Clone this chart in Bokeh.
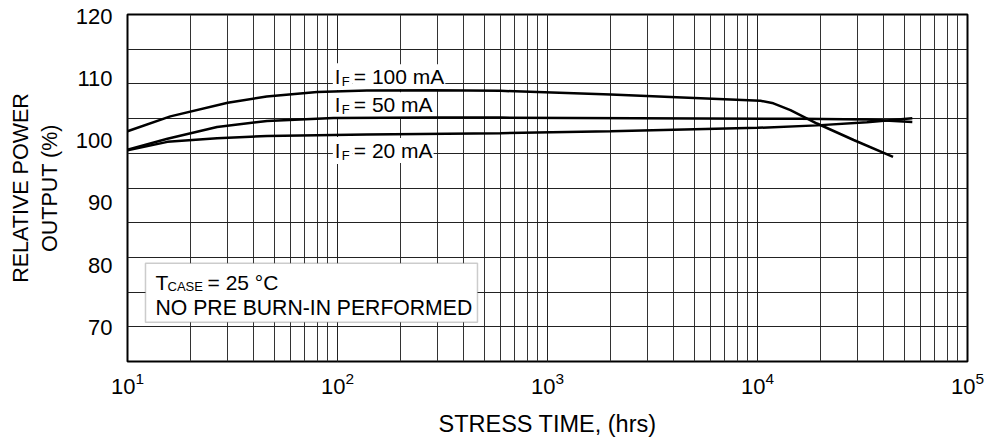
import numpy as np
from bokeh.plotting import figure
from bokeh.models import Range1d, FixedTicker, Label, BoxAnnotation, LogTicker
from bokeh.embed import file_html
from bokeh.resources import INLINE

# ---- data ----
hours_100 = [10, 16, 30, 46, 80, 138, 286, 597, 2000, 5350, 10330, 11900, 14350, 19200, 28700, 44200]
power_100 = [101.5, 103.9, 106.1, 107.1, 107.8, 108.05, 108.1, 108.0, 107.4, 106.8, 106.4, 106.0, 104.9, 102.75, 100.1, 97.4]

hours_50 = [10, 15.5, 26.7, 46.2, 95.7, 286, 600, 16000, 33200, 54600]
power_50 = [98.55, 100.3, 102.2, 103.15, 103.65, 103.7, 103.7, 103.5, 103.4, 103.0]

hours_20 = [10, 15.5, 26.7, 46.2, 138, 597, 2000, 10000, 19200, 33200, 54600]
power_20 = [98.45, 99.8, 100.4, 100.75, 101.0, 101.2, 101.5, 102.05, 102.45, 102.95, 103.6]

y_tick_values = [70, 80, 90, 100, 110, 120]
x_start, x_end = 10, 100000
y_start, y_end = 64.5, 120.27

FONT = "Liberation Sans"

p = figure(width=988, height=443, x_axis_type="log",
           x_range=Range1d(x_start, x_end), y_range=Range1d(y_start, y_end),
           output_backend="svg", toolbar_location=None,
           min_border_left=127, min_border_right=21, min_border_top=14, min_border_bottom=82)
p.background_fill_color = "white"
p.border_fill_color = "white"
p.outline_line_color = "black"
p.outline_line_width = 2

# x axis
p.xaxis.ticker = LogTicker(num_minor_ticks=10)
p.xaxis.axis_label = "STRESS TIME, (hrs)"
p.xaxis.axis_label_text_font = FONT
p.xaxis.axis_label_text_font_size = "23.5px"
p.xaxis.axis_label_text_font_style = "normal"
p.xaxis.axis_label_text_color = "black"
p.xaxis.axis_label_standoff = 14
p.xaxis.major_label_text_font = FONT
p.xaxis.major_label_text_font_size = "22px"
p.xaxis.major_label_text_color = "black"
p.xaxis.major_label_standoff = 4
p.xaxis.axis_line_color = None
p.xaxis.major_tick_line_color = None
p.xaxis.minor_tick_line_color = None

# y axis
p.yaxis.ticker = FixedTicker(ticks=y_tick_values)
p.yaxis.axis_label = "RELATIVE POWER\nOUTPUT (%)"
p.yaxis.axis_label_text_font = FONT
p.yaxis.axis_label_text_font_size = "21.5px"
p.yaxis.axis_label_text_font_style = "normal"
p.yaxis.axis_label_text_color = "black"
p.yaxis.axis_label_standoff = 11
p.yaxis.major_label_text_font = FONT
p.yaxis.major_label_text_font_size = "22px"
p.yaxis.major_label_text_color = "black"
p.yaxis.major_label_standoff = 9
p.yaxis.axis_line_color = None
p.yaxis.major_tick_line_color = None
p.yaxis.minor_tick_line_color = None

# grids
p.xgrid.grid_line_color = "#222222"
p.xgrid.grid_line_width = 1
p.xgrid.minor_grid_line_color = "#333333"
p.xgrid.minor_grid_line_width = 1
grid_rows = [y_start + i * (y_end - y_start) / 10 for i in range(11)]
p.ygrid.ticker = FixedTicker(ticks=grid_rows)
p.ygrid.grid_line_color = "#222222"
p.ygrid.grid_line_width = 1

# curves
for xs, ys in [(hours_100, power_100), (hours_50, power_50), (hours_20, power_20)]:
    p.line(xs, ys, line_color="black", line_width=2.5)

# curve labels (drawn under the curves, over the grid)
def add_text(x, y, text, size, dx=0, dy=0, bg=None, pad=0):
    p.add_layout(Label(x=x, y=y, x_offset=dx, y_offset=dy, text=text, text_font=FONT,
                       text_font_size=size, text_baseline="middle", text_align="left",
                       text_color="black", background_fill_color=bg, padding=pad,
                       level="underlay"))

def curve_label(x, y, rest):
    add_text(x, y, "I", "21px", bg="white", pad=2)
    add_text(x, y, "F", "13px", dx=6, dy=-5, bg="white", pad=3)
    add_text(x, y, rest, "21px", dx=20, bg="white", pad=1)

curve_label(95, 110.28, "= 100 mA")
curve_label(95, 105.77, "= 50 mA")
curve_label(95, 98.4, "= 20 mA")

# condition box
p.add_layout(BoxAnnotation(left=12.18, right=464, bottom=70.8, top=80.31,
                           fill_color="white", fill_alpha=1,
                           line_color="#555555", line_width=1.5, level="underlay"))
add_text(13.6, 77.25, "T", "21px")
add_text(13.6, 77.25, "CASE", "13px", dx=12, dy=-4)
add_text(13.6, 77.25, "= 25 °C", "21px", dx=52)
add_text(13.6, 73.22, "NO PRE BURN-IN PERFORMED", "21.2px")

open("out.html", "w").write(file_html(p, INLINE))
